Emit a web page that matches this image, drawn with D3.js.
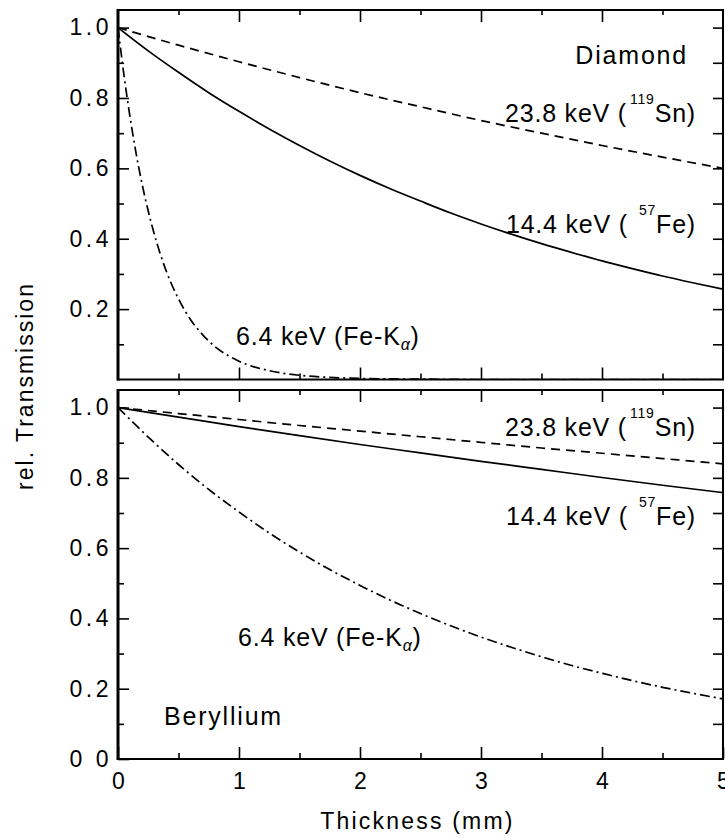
<!DOCTYPE html>
<html>
<head>
<meta charset="utf-8">
<script src="https://cdn.jsdelivr.net/npm/d3@7"></script>
<style>
  html, body { margin: 0; padding: 0; background: #fff; }
  svg { display: block; }
  text { font-family: "Liberation Sans", Arial, Helvetica, sans-serif; fill: #000; }
</style>
</head>
<body>
<svg id="chart" width="725" height="838"></svg>
<script>
// ---------- data ----------
const xFine    = [0, 0.05, 0.1, 0.15, 0.2, 0.3, 0.4, 0.5, 0.6, 0.7, 0.8, 1.0, 1.25, 1.5, 1.75, 2.0, 2.5, 3.0, 4.0, 5.0];
const xQuarter = [0, 0.25, 0.5, 0.75, 1, 1.25, 1.5, 1.75, 2, 2.25, 2.5, 2.75, 3, 3.25, 3.5, 3.75, 4, 4.25, 4.5, 4.75, 5];
const xHalf    = [0, 0.5, 1, 1.5, 2, 2.5, 3, 3.5, 4, 4.5, 5];

const diamond64  = [1.0, 0.863, 0.745, 0.642, 0.554, 0.413, 0.307, 0.229, 0.170, 0.127, 0.094, 0.052, 0.025, 0.012, 0.006, 0.003, 0.001, 0, 0, 0];
const diamond144 = [1, 0.934, 0.873, 0.815, 0.762, 0.712, 0.665, 0.621, 0.580, 0.542, 0.507, 0.473, 0.442, 0.413, 0.386, 0.361, 0.337, 0.315, 0.294, 0.275, 0.257];
const diamond238 = [1, 0.950, 0.903, 0.858, 0.815, 0.775, 0.736, 0.700, 0.665, 0.632, 0.600];

const beryllium64  = [1, 0.916, 0.838, 0.767, 0.703, 0.643, 0.589, 0.539, 0.494, 0.452, 0.414, 0.379, 0.347, 0.318, 0.291, 0.266, 0.244, 0.223, 0.204, 0.187, 0.171];
const beryllium144 = [1, 0.973, 0.946, 0.920, 0.895, 0.871, 0.847, 0.824, 0.801, 0.779, 0.758];
const beryllium238 = [1, 0.983, 0.966, 0.949, 0.933, 0.917, 0.901, 0.885, 0.870, 0.855, 0.840];

const xMajorTicks  = [0, 1, 2, 3, 4, 5];
const xMinorTicks  = [0.5, 1.5, 2.5, 3.5, 4.5];
const yTopTicks    = [0.2, 0.4, 0.6, 0.8, 1.0];
const yTopLabels   = ["0.2", "0.4", "0.6", "0.8", "1.0"];
const yBotTicks    = [0, 0.2, 0.4, 0.6, 0.8, 1.0];
const yBotLabels   = ["0 0", "0.2", "0.4", "0.6", "0.8", "1.0"];
const yMinorTicks  = [0.1, 0.3, 0.5, 0.7, 0.9];
const yRightTicks  = [0.1, 0.2, 0.3, 0.4, 0.5, 0.6, 0.7, 0.8, 0.9, 1.0];

const xTitle = "Thickness (mm)";
const yTitle = "rel. Transmission";

// ---------- layout ----------
const svg = d3.select("#chart");
const left = 118, right = 723;
const panels = [
  { name: "top", top: 10, bottom: 379.5, ticks: yTopTicks, labels: yTopLabels },
  { name: "bot", top: 390, bottom: 759, ticks: yBotTicks, labels: yBotLabels }
];

const x = d3.scaleLinear().domain([0, 5]).range([left, right]);
panels.forEach(p => { p.y = d3.scaleLinear().domain([0, 1.05]).range([p.bottom, p.top]); });

const defs = svg.append("defs");
panels.forEach(p => {
  defs.append("clipPath").attr("id", "clip-" + p.name)
    .append("rect").attr("x", left).attr("y", p.top).attr("width", right - left).attr("height", p.bottom - p.top);
});

const tickFont = 23, tickLS = 3.5;

function styleAxis(g) {
  g.select(".domain").remove();
  g.selectAll(".tick line").attr("stroke", "#000").attr("stroke-width", 1.6);
  g.selectAll(".tick text")
    .style("font-family", '"Liberation Sans", Arial, Helvetica, sans-serif')
    .style("font-size", tickFont + "px")
    .style("letter-spacing", tickLS + "px")
    .attr("fill", "#000");
}

panels.forEach((p, i) => {
  // left major
  svg.append("g").attr("transform", `translate(${left},0)`)
    .call(d3.axisLeft(p.y).tickValues(p.ticks).tickFormat((d, k) => p.labels[k]).tickSize(-11).tickPadding(6))
    .call(styleAxis);
  // left minor
  svg.append("g").attr("transform", `translate(${left},0)`)
    .call(d3.axisLeft(p.y).tickValues(yMinorTicks).tickFormat("").tickSize(-6))
    .call(styleAxis);
  // right ticks
  svg.append("g").attr("transform", `translate(${right},0)`)
    .call(d3.axisRight(p.y).tickValues(yRightTicks).tickFormat("").tickSize(-10))
    .call(styleAxis);
  // top ticks
  svg.append("g").attr("transform", `translate(0,${p.top})`)
    .call(d3.axisTop(x).tickValues(xMajorTicks.slice(1, 5)).tickFormat("").tickSize(-12))
    .call(styleAxis);
  svg.append("g").attr("transform", `translate(0,${p.top})`)
    .call(d3.axisTop(x).tickValues(xMinorTicks).tickFormat("").tickSize(-5))
    .call(styleAxis);
  // bottom ticks
  const isBottom = i === 1;
  svg.append("g").attr("transform", `translate(0,${p.bottom})`)
    .call(d3.axisBottom(x).tickValues(isBottom ? xMajorTicks : xMajorTicks.slice(1, 5))
      .tickFormat(isBottom ? d3.format("d") : "").tickSize(-12).tickPadding(14))
    .call(styleAxis)
    .call(g => g.selectAll(".tick text").attr("dy", "0.71em").attr("dx", tickLS / 2));
  svg.append("g").attr("transform", `translate(0,${p.bottom})`)
    .call(d3.axisBottom(x).tickValues(xMinorTicks).tickFormat("").tickSize(-6))
    .call(styleAxis);

  // frame
  svg.append("rect").attr("x", left).attr("y", p.top).attr("width", right - left).attr("height", p.bottom - p.top)
    .attr("fill", "none").attr("stroke", "#000").attr("stroke-width", 2);
  svg.append("line").attr("x1", left).attr("x2", left).attr("y1", p.top - 1).attr("y2", p.bottom + 1)
    .attr("stroke", "#000").attr("stroke-width", 3);
});

// ---------- curves ----------
const series = [
  { panel: 0, xs: xFine,    ys: diamond64,    dash: "10,4,2,4" },
  { panel: 0, xs: xQuarter, ys: diamond144,   dash: null },
  { panel: 0, xs: xHalf,    ys: diamond238,   dash: "9,6" },
  { panel: 1, xs: xQuarter, ys: beryllium64,  dash: "10,4,2,4" },
  { panel: 1, xs: xHalf,    ys: beryllium144, dash: null },
  { panel: 1, xs: xHalf,    ys: beryllium238, dash: "9,6" }
];
series.forEach(s => {
  const p = panels[s.panel];
  const line = d3.line().x(d => x(d[0])).y(d => p.y(d[1])).curve(d3.curveMonotoneX);
  svg.append("path")
    .attr("clip-path", `url(#clip-${p.name})`)
    .attr("d", line(s.xs.map((v, k) => [v, s.ys[k]])))
    .attr("fill", "none").attr("stroke", "#000").attr("stroke-width", 1.7)
    .attr("stroke-dasharray", s.dash);
});

// ---------- annotations ----------
const labFont = 25;
function label(xp, yp, anchor, ls, parts) {
  const t = svg.append("text").attr("x", xp).attr("y", yp).attr("text-anchor", anchor)
    .style("font-size", labFont + "px").style("letter-spacing", ls + "px");
  parts.forEach(pt => {
    const ts = t.append("tspan").text(pt.t);
    if (pt.size) ts.style("font-size", pt.size + "px");
    if (pt.dy) ts.attr("dy", pt.dy);
    if (pt.dx) ts.attr("dx", pt.dx);
    if (pt.italic) ts.style("font-style", "italic");
  });
  return t;
}
const sn = [{ t: "23.8 keV (" }, { t: "119", size: 14, dy: -18, dx: 3 }, { t: "Sn)", dy: 18 }];
const fe = [{ t: "14.4 keV (" }, { t: "57", size: 14, dy: -18, dx: 11 }, { t: "Fe)", dy: 18 }];
const ka = [{ t: "6.4 keV (Fe-K" }, { t: "α", size: 16, dy: 5, italic: true }, { t: ")", dy: -5 }];

label(688, 64, "end", 1.8, [{ t: "Diamond" }]);
label(696, 122, "end", 0.8, sn);
label(696, 233, "end", 0.8, fe);
label(236, 345, "start", 0.8, ka);

label(696, 436, "end", 0.8, sn);
label(696, 525, "end", 0.8, fe);
label(238, 646, "start", 0.8, ka);
label(164, 725, "start", 1.8, [{ t: "Beryllium" }]);

// axis titles
svg.append("text").attr("x", (left + right) / 2 - 3).attr("y", 829).attr("text-anchor", "middle")
  .style("font-size", "23px").style("letter-spacing", "2.2px").text(xTitle);
svg.append("text").attr("transform", `translate(33,386) rotate(-90)`).attr("text-anchor", "middle")
  .style("font-size", "23px").style("letter-spacing", "2px").text(yTitle);
</script>
</body>
</html>
